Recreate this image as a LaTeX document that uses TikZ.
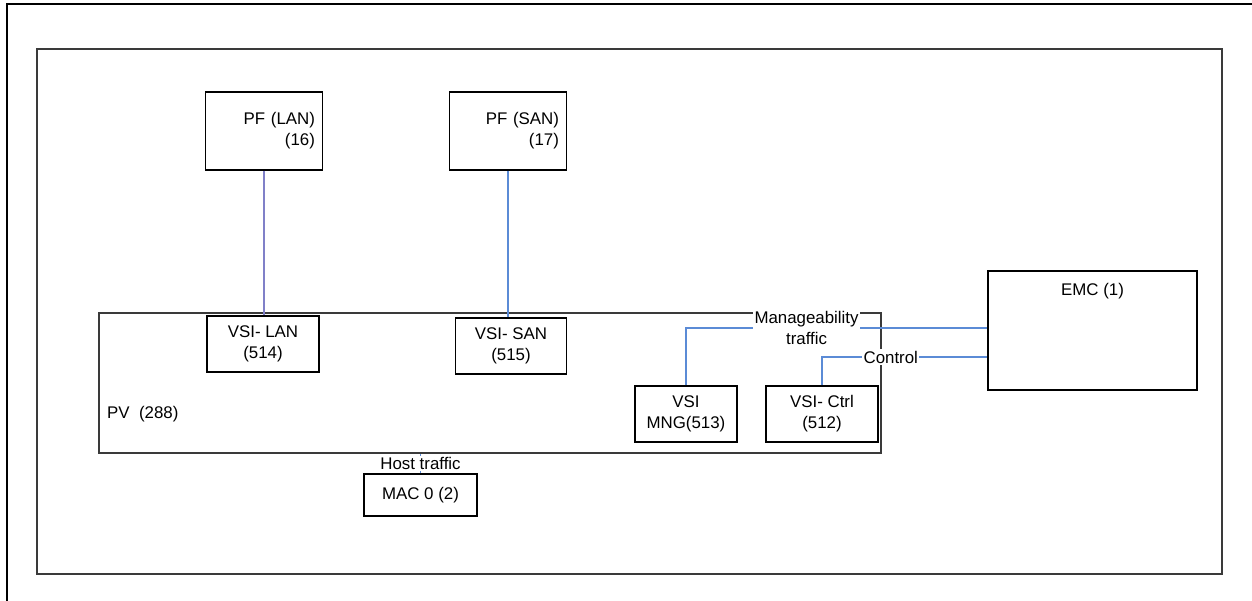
\documentclass[tikz,border=0pt]{standalone}
\usepackage{fontspec}
\setmainfont{Liberation Sans}
\usetikzlibrary{positioning,calc}
\definecolor{vblue}{HTML}{5B8BD6}
\definecolor{vlav}{HTML}{8080C8}
\definecolor{vgrey}{HTML}{3A3A3A}
\newcommand{\vfs}{\fontsize{9.6}{12}\selectfont}
\tikzset{
  box/.style={draw=black,fill=white,line width=0.7pt,align=center,font=\vfs,inner sep=0pt},
  pfbox/.style={box,align=right,text width=58pt,inner xsep=4.5pt,minimum height=1.56cm},
  vsi/.style={box,minimum height=1.12cm},
  frame/.style={draw=vgrey,line width=0.8pt,inner sep=0pt},
  outer/.style={draw=black,line width=1.2pt},
  lbl/.style={font=\vfs,align=center,inner sep=0.5pt},
  tag/.style={font=\vfs,align=center,fill=white,inner sep=0.8pt},
  bline/.style={draw=vblue,line width=0.6pt},
  lline/.style={draw=vlav,line width=0.6pt},
}
\begin{document}
\begin{tikzpicture}[x=0.02cm,y=-0.02cm]
  \useasboundingbox (0,0) rectangle (1252,601);
  \clip (0,0) rectangle (1252,601);
  % page frame and outer box
  \draw[outer] (7,640) -- (7,4) -- (1300,4);
  \node[frame,minimum width=23.7cm,minimum height=10.5cm] (page) at (629.5,311.5) {};
  % physical functions
  \node[pfbox] (pflan) at (264,131) {PF (LAN)\\(16)};
  \node[pfbox] (pfsan) at (508,131) {PF (SAN)\\(17)};
  % PV and its VSIs
  \node[frame,minimum width=15.64cm,minimum height=2.8cm] (pv) at (490,383) {};
  \node[lbl,anchor=west] (pvtxt) at (106,414) {PV\ \ (288)};
  \node[vsi,minimum width=2.24cm] (vsilan) at (263,344) {VSI- LAN\\(514)};
  \node[vsi,minimum width=2.22cm] (vsisan) at (511,346) {VSI- SAN\\(515)};
  \node[vsi,minimum width=2.04cm] (vsimng) at (686,414) {VSI\\MNG(513)};
  \node[vsi,minimum width=2.24cm] (vsictrl) at (822,414) {VSI- Ctrl\\(512)};
  \node[box,minimum width=4.18cm,minimum height=2.38cm] (emc) at (1092.5,330.5) {};
  \node[lbl] (emctxt) at ($(emc.north)+(0,21)$) {EMC (1)};
  \node[box,minimum width=2.26cm,minimum height=0.84cm] (mac) at (420.5,495) {MAC 0 (2)};
  % links
  \draw[lline] (pflan.south) -- (pflan.south |- vsilan.north);
  \draw[bline] (pfsan.south) -- (pfsan.south |- vsisan.north);
  \draw[bline] (vsimng.north) |- (emc.west |- 0,328)
    node[tag,pos=0.70] (mngtxt) {Manageability\\traffic};
  \draw[bline] (vsictrl.north) |- (emc.west |- 0,357)
    node[tag,pos=0.708] (ctrltxt) {Control};
  \draw[bline] (mac.north) -- (mac.north |- pv.south)
    node[tag,midway] (hosttxt) {Host traffic};
\end{tikzpicture}
\end{document}
